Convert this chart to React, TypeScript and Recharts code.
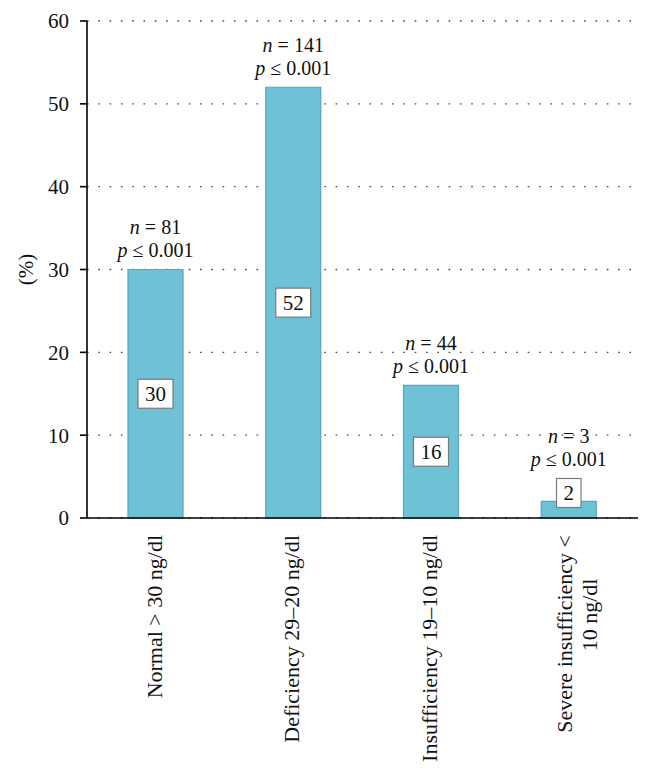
import React from 'react';
import { BarChart, Bar, XAxis, YAxis, CartesianGrid, LabelList } from 'recharts';

const categories = ['Normal', 'Deficiency', 'Insufficiency', 'Severe'];
const tickLines: string[][] = [
  ['Normal > 30 ng/dl'],
  ['Deficiency 29\u201320 ng/dl'],
  ['Insufficiency 19\u201310 ng/dl'],
  ['Severe insufficiency <', '10 ng/dl'],
];
const values = [30, 52, 16, 2];
const counts = [81, 141, 44, 3];
const pValues = ['0.001', '0.001', '0.001', '0.001'];
const yTicks = [0, 10, 20, 30, 40, 50, 60];

const data = categories.map((c, i) => ({ name: c, value: values[i], idx: i }));

const FONT = '"Liberation Serif", "Times New Roman", serif';
const FS = 21;
const AFS = 20;

const renderLabel = (props: any) => {
  const { x, y, width, height, value, index } = props;
  const bottom = y + height;
  const cx = x + width / 2;
  const boxCy = Math.min(y + height / 2, bottom - 25);
  const boxH = 29;
  const boxW = String(value).length * 10.5 + 14;
  const boxTop = boxCy - boxH / 2;
  const pCenter = Math.min(y, boxTop) - 19;
  return (
    <g>
      <rect x={cx - boxW / 2} y={boxTop} width={boxW} height={boxH} fill="#ffffff" stroke="#7a7a7a" strokeWidth={1.2} />
      <text x={cx} y={boxCy + 7} textAnchor="middle" fontSize={FS} fontFamily={FONT} fill="#111">
        {value}
      </text>
      <text x={cx} y={pCenter - 23 + 6.5} textAnchor="middle" fontSize={AFS} fontFamily={FONT} fill="#111">
        <tspan fontStyle="italic">n</tspan>
        <tspan> = {counts[index]}</tspan>
      </text>
      <text x={cx} y={pCenter + 6.5} textAnchor="middle" fontSize={AFS} fontFamily={FONT} fill="#111">
        <tspan fontStyle="italic">p</tspan>
        <tspan> ≤ {pValues[index]}</tspan>
      </text>
    </g>
  );
};

const XTick = (props: any) => {
  const { x, y, payload } = props;
  const i = payload.index ?? categories.indexOf(payload.value);
  const lines = tickLines[i] || [String(payload.value)];
  const fs = 22;
  if (lines.length === 1) {
    return (
      <g transform={`translate(${x},${y})`}>
        <text transform="rotate(-90)" x={0} y={-2} dy="0.35em" textAnchor="end" fontSize={fs} fontFamily={FONT} fill="#111">
          {lines[0]}
        </text>
      </g>
    );
  }
  return (
    <g transform={`translate(${x},${y})`}>
      <text transform="rotate(-90)" x={0} y={-5} dy="0.35em" textAnchor="end" fontSize={fs} fontFamily={FONT} fill="#111">
        {lines[0]}
      </text>
      <text transform="rotate(-90)" x={-80} y={20} dy="0.35em" textAnchor="middle" fontSize={fs} fontFamily={FONT} fill="#111">
        {lines[1]}
      </text>
    </g>
  );
};

const YLabel = (props: any) => {
  const { viewBox } = props;
  const cx = viewBox.x + 26;
  const cy = viewBox.y + viewBox.height / 2;
  return (
    <text x={cx} y={cy} transform={`rotate(-90, ${cx}, ${cy})`} textAnchor="middle" dy="0.35em" fontSize={FS} fontFamily={FONT} fill="#111">
      (%)
    </text>
  );
};

export default function App() {
  return (
    <div style={{ position: 'absolute', left: 0, top: 0, background: '#fff' }}>
      <BarChart width={652} height={770} data={data} margin={{ top: 21, right: 14, bottom: 0, left: 0 }} barCategoryGap={0}>
        <CartesianGrid horizontal vertical={false} stroke="#444" strokeDasharray="1.6 9.7" strokeWidth={1.4} />
        <XAxis
          dataKey="name"
          interval={0}
          tickSize={0}
          tickMargin={17}
          height={252}
          axisLine={{ stroke: '#000', strokeWidth: 1.6 }}
          tickLine={false}
          tick={<XTick />}
        />
        <YAxis
          domain={[0, 60]}
          ticks={yTicks}
          width={87}
          tickSize={7}
          tickMargin={11}
          axisLine={{ stroke: '#000', strokeWidth: 1.6 }}
          tickLine={{ stroke: '#000', strokeWidth: 1.6 }}
          tick={{ fontSize: FS, fontFamily: FONT, fill: '#111' }}
          label={<YLabel />}
        />
        <Bar dataKey="value" barSize={55} fill="#6fc1d6" stroke="#56a5bc" strokeWidth={1.2} isAnimationActive={false}>
          <LabelList dataKey="value" content={renderLabel} />
        </Bar>
      </BarChart>
    </div>
  );
}
